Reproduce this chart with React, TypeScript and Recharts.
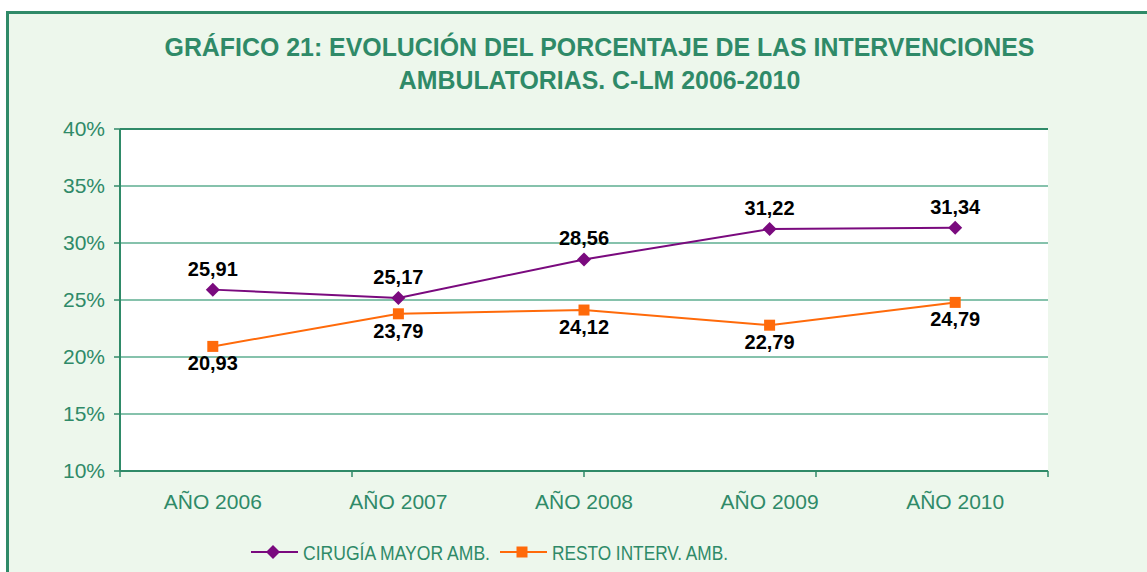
import React from "react";
import { LineChart, Line, XAxis, YAxis, CartesianGrid, LabelList, ReferenceLine } from "recharts";

const categories = ["AÑO 2006", "AÑO 2007", "AÑO 2008", "AÑO 2009", "AÑO 2010"];
const cirugiaMayor = [25.91, 25.17, 28.56, 31.22, 31.34];
const restoInterv = [20.93, 23.79, 24.12, 22.79, 24.79];
const yTicks = [10, 15, 20, 25, 30, 35, 40];
const boundaryTicks = [0, 1, 2, 3, 4, 5];
const titleLines = [
  "GRÁFICO 21: EVOLUCIÓN DEL PORCENTAJE DE LAS INTERVENCIONES",
  "AMBULATORIAS. C-LM 2006-2010",
];
const seriesNames = ["CIRUGÍA MAYOR AMB.", "RESTO INTERV. AMB."];

const data = categories.map((c, i) => ({ name: c, cma: cirugiaMayor[i], resto: restoInterv[i] }));

const GREEN = "#2F8A68";
const GRID = "#86C2AC";
const PURPLE = "#7A0A7E";
const ORANGE = "#FF6A0A";
const FONT = "'Liberation Sans', Arial, sans-serif";

const fmt = (v: number) => v.toFixed(2).replace(".", ",");

const Diamond = (props: any) => {
  const { cx, cy } = props;
  if (cx == null || cy == null) return null;
  const r = 7;
  return <path d={`M${cx},${cy - r}L${cx + r},${cy}L${cx},${cy + r}L${cx - r},${cy}Z`} fill={PURPLE} />;
};
const Square = (props: any) => {
  const { cx, cy } = props;
  if (cx == null || cy == null) return null;
  const s = 11;
  return <rect x={cx - s / 2} y={cy - s / 2} width={s} height={s} fill={ORANGE} />;
};

const makeLabel = (dy: number) => (props: any) => {
  const { x, y, value } = props;
  return (
    <text x={x} y={y + dy} textAnchor="middle" dominantBaseline="central" fontFamily={FONT} fontWeight="bold" fontSize={20} fill="#000">
      {fmt(value)}
    </text>
  );
};

export default function App() {
  return (
    <div style={{ position: "absolute", left: 0, top: 0, width: 1147, height: 572, overflow: "hidden", background: "#fff" }}>
      <div
        style={{
          position: "absolute",
          left: 6,
          top: 11,
          width: 1160,
          height: 600,
          border: `3px solid ${GREEN}`,
          background: "#EDF7EC",
          boxSizing: "border-box",
        }}
      />
      {titleLines.map((t, i) => (
        <div
          key={i}
          style={{
            position: "absolute",
            left: 0,
            width: 1199,
            top: 32 + i * 33,
            textAlign: "center",
            fontFamily: FONT,
            fontWeight: "bold",
            fontSize: 24.9,
            color: GREEN,
            lineHeight: "30px",
            whiteSpace: "nowrap",
          }}
        >
          {t}
        </div>
      ))}
      <div style={{ position: "absolute", left: 0, top: 0 }}>
        <LineChart width={1147} height={572} data={data} margin={{ top: 129, right: 99, bottom: 62, left: 60 }}>
          <CartesianGrid
            stroke={GRID}
            strokeWidth={2}
            fill="#FFFFFF"
            vertical={false}
            horizontalPoints={[186, 243, 300, 357, 414]}
          />
          <XAxis
            xAxisId="z"
            dataKey="name"
            height={30}
            padding={{ left: 92.8, right: 92.8 }}
            axisLine={false}
            tickLine={false}
            tick={{ fill: GREEN, fontSize: 21, fontFamily: FONT }}
            tickMargin={8}
          />
          <XAxis
            xAxisId="a"
            type="number"
            domain={[0, 5]}
            ticks={boundaryTicks}
            tickCount={6}
            interval={0}
            allowDecimals={false}
            height={9}
            tickFormatter={() => ""}
            axisLine={false}
            tickLine={{ stroke: GREEN, strokeWidth: 1.5 }}
            tickSize={6}
            tickMargin={0}
          />
          <YAxis
            width={60}
            domain={[10, 40]}
            ticks={yTicks}
            tickFormatter={(v: number) => `${v}%`}
            axisLine={{ stroke: GREEN, strokeWidth: 2 }}
            tickLine={{ stroke: GREEN, strokeWidth: 1.5 }}
            tickSize={6}
            tickMargin={9}
            tick={{ fill: GREEN, fontSize: 21, fontFamily: FONT }}
            interval={0}
          />
          <ReferenceLine y={40} xAxisId="a" stroke={GREEN} strokeWidth={2} />
          <ReferenceLine y={10} xAxisId="a" stroke={GREEN} strokeWidth={2} />
          <ReferenceLine x={5} xAxisId="a" stroke={GREEN} strokeWidth={2.5} />
          <Line
            xAxisId="z"
            dataKey="cma"
            stroke={PURPLE}
            strokeWidth={2}
            dot={<Diamond />}
            activeDot={false}
            isAnimationActive={false}
          >
            <LabelList dataKey="cma" content={makeLabel(-21)} />
          </Line>
          <Line
            xAxisId="z"
            dataKey="resto"
            stroke={ORANGE}
            strokeWidth={2}
            dot={<Square />}
            activeDot={false}
            isAnimationActive={false}
          >
            <LabelList dataKey="resto" content={makeLabel(17)} />
          </Line>
        </LineChart>
      </div>
      <svg style={{ position: "absolute", left: 0, top: 0 }} width={1147} height={572}>
        <line x1={251} y1={552} x2={298} y2={552} stroke={PURPLE} strokeWidth={2} />
        <Diamond cx={273} cy={552} />
        <text x={303} y={552} dominantBaseline="central" fontFamily={FONT} fontSize={21} fill={GREEN} textLength={187} lengthAdjust="spacingAndGlyphs">
          {seriesNames[0]}
        </text>
        <line x1={500} y1={552} x2={547} y2={552} stroke={ORANGE} strokeWidth={2} />
        <Square cx={522} cy={552} />
        <text x={552} y={552} dominantBaseline="central" fontFamily={FONT} fontSize={21} fill={GREEN} textLength={176} lengthAdjust="spacingAndGlyphs">
          {seriesNames[1]}
        </text>
      </svg>
    </div>
  );
}
